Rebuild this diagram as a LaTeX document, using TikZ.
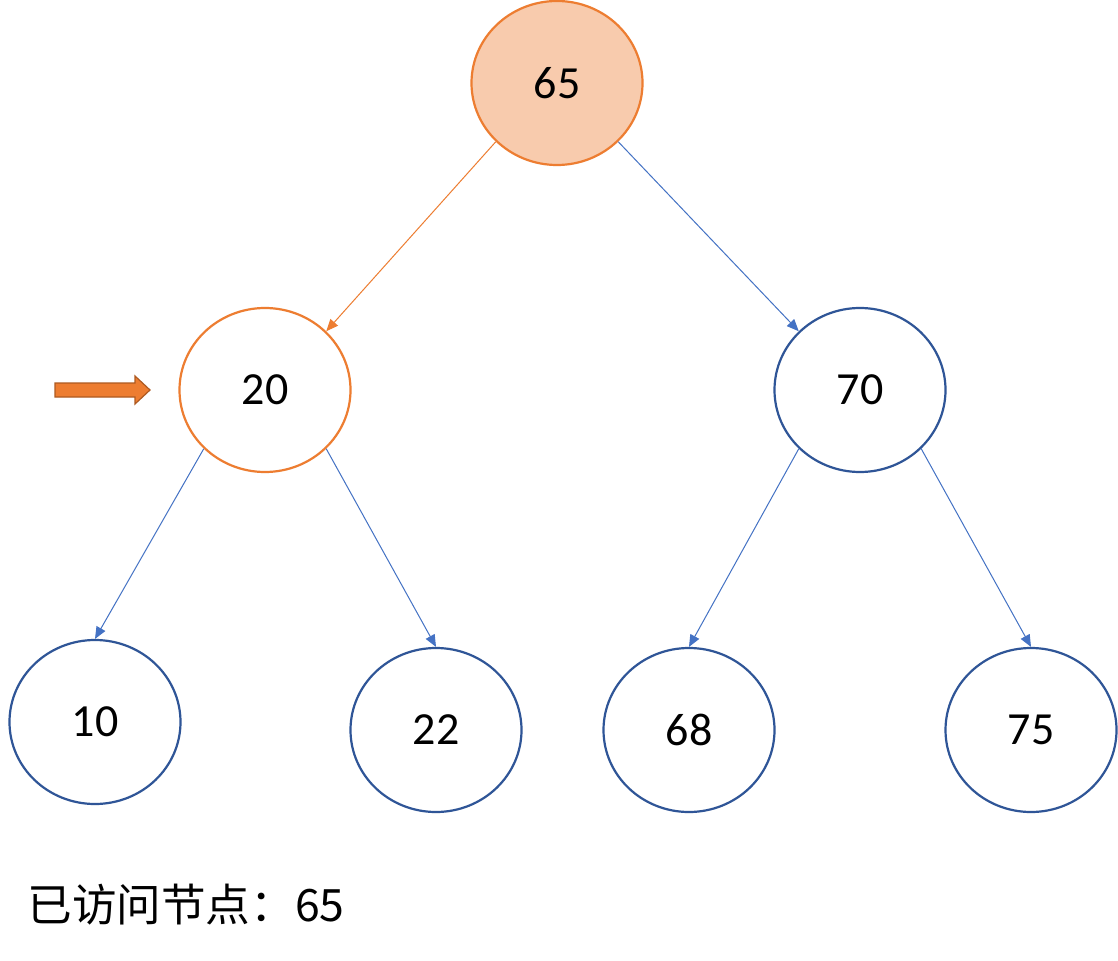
\documentclass[tikz,border=0pt]{standalone}
\usepackage{fontspec}
\setmainfont{Carlito}
\newfontfamily\cjkfont{Noto Sans CJK SC}
\usepackage{xcolor}
\usepackage{tikz}
\usetikzlibrary{shapes.geometric, arrows.meta}
\definecolor{BSTOrange}{RGB}{237, 125, 49}
\definecolor{BSTOrangeDark}{RGB}{174, 90, 33}
\definecolor{BSTPeach}{RGB}{248, 203, 173}
\definecolor{BSTNavy}{RGB}{47, 85, 151}
\definecolor{BSTBlue}{RGB}{68, 114, 196}

\tikzset{
  treenode/.style={ellipse, draw=BSTNavy, line width=1.1pt, fill=white,
    minimum width=85.5pt, minimum height=82pt, inner sep=0pt,
    font=\fontsize{23}{26}\selectfont},
  visited/.style={treenode, draw=BSTOrange, fill=BSTPeach},
  current/.style={treenode, draw=BSTOrange},
  edge/.style={draw=BSTBlue, line width=0.5pt,
    -{Triangle[length=6pt, width=5pt]}},
  hotedge/.style={edge, draw=BSTOrange}
}

\begin{document}
\begin{tikzpicture}[x=0.5pt,y=0.5pt]
  \path[use as bounding box, fill=white] (0,0) rectangle (1118,960);

  % tree nodes
  \node[visited] (n65) at (557,877) {65};
  \node[current] (n20) at (265,570) {20};
  \node[treenode] (n70) at (860,570) {70};
  \node[treenode] (n10) at (95,238) {10};
  \node[treenode] (n22) at (436,230) {22};
  \node[treenode] (n68) at (689,230) {68};
  \node[treenode] (n75) at (1031,230) {75};

  % edges
  \draw[hotedge] (n65.south west) -- (n20.north east);
  \draw[edge] (n65.south east) -- (n70.north west);
  \draw[edge] (n20.south west) -- (n10.north);
  \draw[edge] (n20.south east) -- (n22.north);
  \draw[edge] (n70.south west) -- (n68.north);
  \draw[edge] (n70.south east) -- (n75.north);

  % pointer to current node
  \draw[BSTOrangeDark, fill=BSTOrange, line width=0.6pt, line join=miter]
    (55,563) -- (135,563) -- (135,556) -- (150,570) -- (135,584)
    -- (135,577) -- (55,577) -- cycle;

  % visited list
  \node[anchor=west, inner sep=0pt] (log) at (27,55)
    {\cjkfont\fontsize{22.3}{25}\selectfont 已访问节点：65};
\end{tikzpicture}
\end{document}
